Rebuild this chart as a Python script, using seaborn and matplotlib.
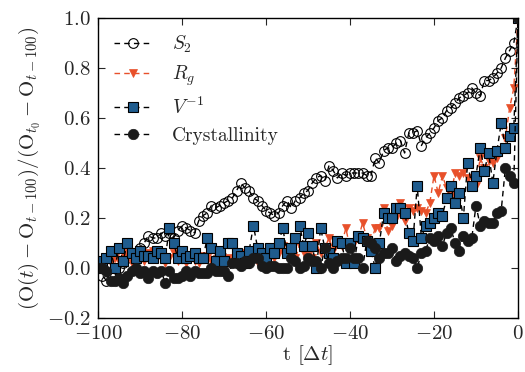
import matplotlib
matplotlib.use("Agg")
import matplotlib.pyplot as plt
import seaborn as sns
import numpy as np
import pandas as pd

# ---------------- data ----------------
t = list(range(-100, 1))

S2 = [0.00, -0.03, -0.05, -0.02, -0.03, 0.00, 0.02, 0.04, 0.06, 0.05,
      0.08, 0.10, 0.13, 0.12, 0.12, 0.14, 0.13, 0.14, 0.12, 0.15,
      0.17, 0.16, 0.15, 0.14, 0.19, 0.21, 0.22, 0.25, 0.24, 0.25,
      0.26, 0.27, 0.28, 0.31, 0.34, 0.32, 0.31, 0.28, 0.27, 0.25,
      0.23, 0.22, 0.21, 0.22, 0.25, 0.27, 0.24, 0.27, 0.28, 0.30,
      0.31, 0.34, 0.36, 0.37, 0.35, 0.41, 0.39, 0.36, 0.38, 0.37,
      0.38, 0.38, 0.38, 0.38, 0.37, 0.37, 0.44, 0.42, 0.47, 0.48,
      0.48, 0.50, 0.51, 0.46, 0.54, 0.54, 0.55, 0.49, 0.52, 0.54,
      0.56, 0.59, 0.60, 0.63, 0.64, 0.66, 0.68, 0.69, 0.70, 0.72,
      0.70, 0.69, 0.75, 0.75, 0.76, 0.78, 0.80, 0.84, 0.87, 0.90,
      1.00]

Rg = [0.00, 0.01, 0.03, 0.02, 0.04, 0.03, 0.06, 0.05, 0.02, 0.04,
      0.05, 0.03, 0.06, 0.07, 0.04, 0.05, 0.02, 0.04, 0.06, 0.03,
      0.04, 0.02, 0.05, 0.03, 0.02, 0.05, 0.04, 0.03, 0.06, 0.05,
      0.02, 0.04, 0.03, 0.05, 0.06, 0.04, 0.03, 0.05, 0.02, 0.04,
      0.03, 0.05, 0.04, 0.06, 0.09, 0.05, 0.07, 0.04, 0.09, 0.06,
      0.05, 0.04, 0.10, 0.06, 0.08, 0.12, 0.07, 0.11, 0.09, 0.16,
      0.08, 0.10, 0.12, 0.18, 0.12, 0.10, 0.16, 0.16, 0.24, 0.15,
      0.17, 0.20, 0.26, 0.19, 0.24, 0.23, 0.24, 0.23, 0.22, 0.26,
      0.37, 0.30, 0.37, 0.32, 0.29, 0.38, 0.37, 0.38, 0.36, 0.36,
      0.33, 0.44, 0.40, 0.43, 0.42, 0.44, 0.47, 0.52, 0.64, 0.72,
      1.00]

Vinv = [0.00, 0.03, 0.04, 0.07, 0.00, 0.08, 0.03, 0.10, 0.06, 0.04,
        0.07, 0.05, 0.05, 0.04, 0.07, 0.06, 0.04, 0.16, 0.10, 0.04,
        0.07, 0.04, 0.05, 0.06, 0.04, 0.04, 0.12, 0.08, 0.03, 0.07,
        0.03, 0.10, 0.10, 0.06, 0.05, 0.02, 0.07, 0.17, 0.08, 0.06,
        0.04, 0.08, 0.06, 0.10, 0.16, 0.06, 0.08, 0.12, 0.17, 0.09,
        0.14, 0.09, 0.00, 0.16, 0.08, 0.06, 0.04, 0.11, 0.10, 0.02,
        0.10, 0.02, 0.13, 0.12, 0.11, 0.07, 0.00, 0.10, 0.22, 0.20,
        0.20, 0.24, 0.24, 0.22, 0.14, 0.11, 0.33, 0.12, 0.17, 0.18,
        0.20, 0.22, 0.21, 0.28, 0.33, 0.26, 0.30, 0.20, 0.42, 0.33,
        0.37, 0.48, 0.39, 0.46, 0.34, 0.47, 0.58, 0.48, 0.53, 0.56,
        1.00]

Cryst = [0.00, 0.00, -0.01, -0.05, -0.05, -0.04, -0.06, -0.03, -0.01, 0.00,
         -0.02, -0.01, -0.04, -0.01, -0.02, -0.01, -0.06, -0.01, -0.04, -0.04,
         -0.03, -0.01, -0.03, -0.01, -0.02, -0.02, -0.02, 0.00, -0.01, -0.01,
         -0.01, -0.03, 0.02, 0.02, 0.01, 0.03, 0.02, 0.04, 0.04, 0.01,
         0.00, 0.01, 0.01, 0.00, 0.00, 0.00, 0.04, 0.03, 0.00, 0.01,
         0.04, 0.03, 0.03, 0.00, 0.08, 0.02, 0.00, 0.03, 0.04, 0.04,
         0.08, 0.04, 0.04, 0.00, 0.11, 0.10, 0.08, 0.04, 0.06, 0.06,
         0.08, 0.03, 0.05, 0.06, 0.05, 0.04, 0.00, 0.06, 0.07, 0.12,
         0.11, 0.13, 0.09, 0.14, 0.16, 0.10, 0.07, 0.13, 0.11, 0.12,
         0.25, 0.17, 0.19, 0.18, 0.18, 0.22, 0.23, 0.40, 0.37, 0.34,
         1.00]

labels = [r"$S_2$", r"$R_g$", r"$V^{-1}$", "Crystallinity"]
xticks = [-100, -80, -60, -40, -20, 0]
yticks = [-0.2, 0.0, 0.2, 0.4, 0.6, 0.8, 1.0]

# ---------------- style ----------------
sns.set_style("ticks")
plt.rcParams["font.family"] = ["serif"]
plt.rcParams["font.serif"] = ["cmr10"]
plt.rcParams["mathtext.fontset"] = "cm"
plt.rcParams["axes.formatter.use_mathtext"] = True
plt.rcParams["axes.unicode_minus"] = True

fig = plt.figure(figsize=(5.25, 3.72), dpi=100)
ax = fig.add_axes([98 / 525, 1 - 318 / 372, 420 / 525, 300 / 372])

dash = (4, 3)
common = dict(ax=ax, linewidth=1.0, dashes=dash, legend=False)

sns.lineplot(x=t, y=S2, color="black", marker="o", markersize=7,
             markerfacecolor="none", markeredgecolor="black",
             markeredgewidth=0.8, label=labels[0], **common)
sns.lineplot(x=t, y=Rg, color="#e8502a", marker="v", markersize=5.5,
             markerfacecolor="#e8502a", markeredgecolor="#e8502a",
             markeredgewidth=0.5, label=labels[1], **common)
sns.lineplot(x=t, y=Vinv, color="black", marker="s", markersize=7,
             markerfacecolor="#1f5c8e", markeredgecolor="black",
             markeredgewidth=0.8, label=labels[2], **common)
sns.lineplot(x=t, y=Cryst, color="black", marker="o", markersize=7.5,
             markerfacecolor="#1a1a1a", markeredgecolor="#1a1a1a",
             markeredgewidth=0.5, label=labels[3], **common)

ax.lines[1].set_color("#e8502a")

ax.set_xlim(-100, 0)
ax.set_ylim(-0.2, 1.0)
ax.set_xticks(xticks)
ax.set_yticks(yticks)
ax.tick_params(direction="in", top=True, right=True, length=5, width=0.8,
               labelsize=15)
ax.tick_params(axis="x", pad=5)
ax.tick_params(axis="y", pad=5)
for s in ax.spines.values():
    s.set_linewidth(1.0)
    s.set_color("black")

ax.set_xlabel(r"t $[\Delta t]$", fontsize=15, labelpad=0)
ax.set_ylabel(r"$(\mathrm{O}(t)-\mathrm{O}_{t-100})/(\mathrm{O}_{t_0}-\mathrm{O}_{t-100})$",
              fontsize=15, labelpad=3)

leg = ax.legend(loc="upper left", frameon=False, fontsize=14,
                handlelength=2.0, labelspacing=0.45, handletextpad=1.0,
                borderaxespad=0.4, numpoints=1)

fig.savefig("out.png", dpi=100)
